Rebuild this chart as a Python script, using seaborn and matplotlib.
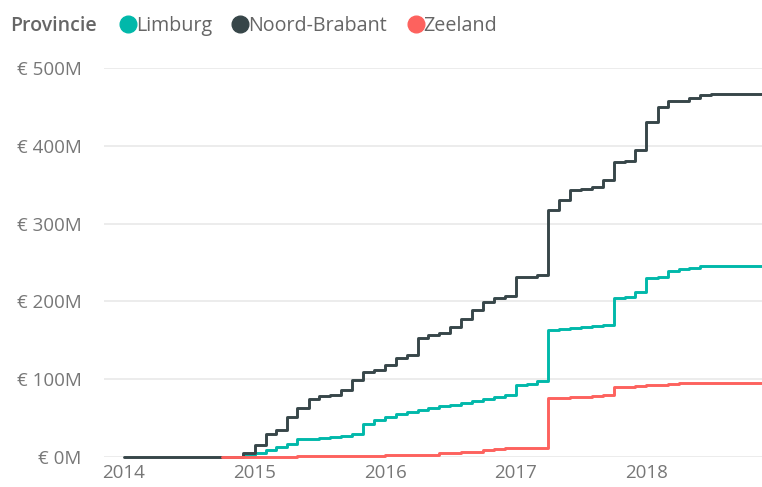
import pandas as pd
import seaborn as sns
import matplotlib.pyplot as plt
import matplotlib.dates as mdates
from matplotlib.lines import Line2D

# cumulative amounts in millions of euro, monthly
noord_brabant_start = "2014-01-01"
noord_brabant = [0] * 11 + [
    5, 15, 30, 35, 51, 63, 74, 78, 80, 86, 99, 109, 112,
    118, 127, 131, 153, 157, 160, 167, 178, 189, 199, 205, 207,
    231, 232, 234, 317, 330, 343, 345, 347, 356, 379, 381, 394,
    430, 450, 457, 458, 461, 465, 467,
] + [467] * 5

limburg_start = "2014-11-01"
limburg = [
    0, 2, 5, 9, 13, 17, 23, 23, 24, 26, 27, 30, 42, 47,
    51, 55, 58, 61, 63, 65, 67, 70, 72, 75, 77, 80,
    92, 94, 98, 163, 165, 166, 167, 169, 170, 204, 206, 212,
    230, 232, 239, 242, 243, 245,
] + [245] * 6

zeeland_start = "2014-10-01"
zeeland = [0, 0, 0, 0, 0.5, 0.5, 0.5, 1, 1, 1, 1, 1, 1, 1.5, 1.5, 2, 2, 2, 2, 2,
           5, 5, 6, 7, 9, 10, 11, 11, 11, 12,
           76, 76, 77, 77, 78, 80, 90, 90, 91,
           92, 93, 94] + [95] * 9

provinces = ["Limburg", "Noord-Brabant", "Zeeland"]
colors = {"Limburg": "#01B8AA", "Noord-Brabant": "#374649", "Zeeland": "#FD625E"}
year_ticks = ["2014", "2015", "2016", "2017", "2018"]
y_ticks = [0, 100, 200, 300, 400, 500]

frames = []
for name, start, vals in [("Limburg", limburg_start, limburg),
                          ("Noord-Brabant", noord_brabant_start, noord_brabant),
                          ("Zeeland", zeeland_start, zeeland)]:
    dates = pd.date_range(start, periods=len(vals), freq="MS")
    frames.append(pd.DataFrame({"Datum": dates, "Bedrag": vals, "Provincie": name}))
df = pd.concat(frames, ignore_index=True)

sns.set_theme(style="white")
plt.rcParams["font.family"] = ["Open Sans", "DejaVu Sans"]

fig = plt.figure(figsize=(7.62, 4.87), dpi=100)
ax = fig.add_axes([104 / 762, 30 / 487, 1 - 104 / 762, 389 / 487])

sns.lineplot(data=df, x="Datum", y="Bedrag", hue="Provincie", hue_order=provinces,
             palette=colors, drawstyle="steps-post", linewidth=2.1, ax=ax,
             legend=False, clip_on=False)

ax.set_xlim(pd.Timestamp("2013-11-06"), pd.Timestamp("2018-11-20"))
ax.set_ylim(0, 500)
ax.set_xticks([pd.Timestamp(y + "-01-01") for y in year_ticks])
ax.xaxis.set_major_formatter(mdates.DateFormatter("%Y"))
ax.set_yticks(y_ticks)
ax.set_yticklabels([f"€ {v}M" for v in y_ticks])
ax.tick_params(axis="y", length=0, pad=16, labelsize=13.5, labelcolor="#777777")
ax.tick_params(axis="x", length=0, pad=5, labelsize=13.5, labelcolor="#777777")
ax.grid(axis="y", color="#EAEAEA", linewidth=1.3)
ax.set_axisbelow(True)
for s in ax.spines.values():
    s.set_visible(False)
ax.set_xlabel("")
ax.set_ylabel("")

fig.text(10 / 762, 1 - 26 / 487, "Provincie", fontsize=14, color="#666666",
         fontweight="semibold", va="center", ha="left")
handles = [Line2D([], [], marker="o", linestyle="", markersize=12,
                  markerfacecolor=colors[p], markeredgecolor=colors[p]) for p in provinces]
fig.legend(handles, provinces, loc="center left", bbox_to_anchor=(116 / 762, 1 - 26 / 487),
           ncol=3, frameon=False, handletextpad=-0.2, columnspacing=0.85,
           handlelength=1.2, fontsize=14.2, labelcolor="#666666", borderpad=0, borderaxespad=0)

fig.savefig("out.png", dpi=100)
